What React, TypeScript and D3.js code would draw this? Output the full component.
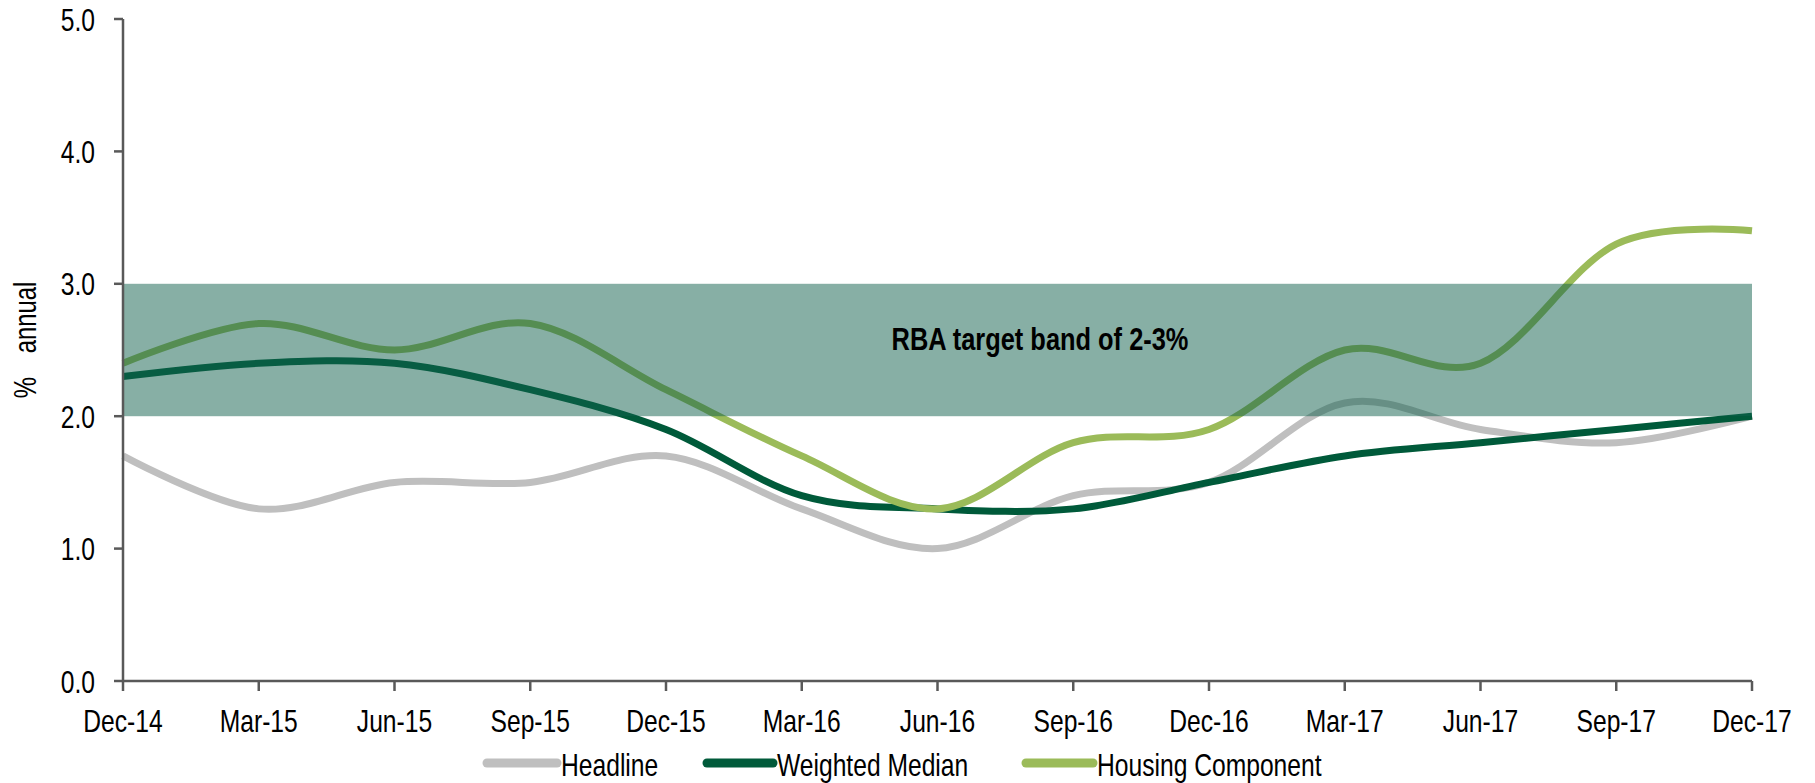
import React from "react";
import * as d3 from "d3";

const quarters = ["Dec-14","Mar-15","Jun-15","Sep-15","Dec-15","Mar-16","Jun-16","Sep-16","Dec-16","Mar-17","Jun-17","Sep-17","Dec-17"];
const headline = [1.7,1.3,1.5,1.5,1.7,1.3,1.0,1.4,1.5,2.1,1.9,1.8,2.0];
const weightedMedian = [2.3,2.4,2.4,2.2,1.9,1.4,1.3,1.3,1.5,1.7,1.8,1.9,2.0];
const housing = [2.4,2.7,2.5,2.7,2.2,1.7,1.3,1.8,1.9,2.5,2.4,3.3,3.4];
const yTicks = [0,1,2,3,4,5];
const band = [2, 3];
const bandLabel = "RBA target band of 2-3%";
const yTitle = "%  annual";

const seriesList = [
  { name: "Headline", values: headline, color: "#bfbfbf" },
  { name: "Weighted Median", values: weightedMedian, color: "#005a3a" },
  { name: "Housing Component", values: housing, color: "#9bbb59" },
];

const W = 1815, H = 783;
const FONT = "'Liberation Sans', Arial, sans-serif";
const SX = 0.77;

function NText(props: { x: number; y: number; anchor?: string; size: number; bold?: boolean; rotate?: number; dy?: string; sx?: number; children: any }) {
  const { x, y, anchor = "start", size, bold, rotate = 0, dy, sx = SX, children } = props;
  return (
    <text
      transform={`translate(${x},${y}) rotate(${rotate}) scale(${sx},1)`}
      textAnchor={anchor}
      fontSize={size}
      fontWeight={bold ? "bold" : "normal"}
      fill="#000"
      dy={dy}
    >
      {children}
    </text>
  );
}

export default function App() {
  const x = d3.scalePoint<string>().domain(quarters).range([123, 1752]);
  const y = d3.scaleLinear().domain([0, 5]).range([681, 19]);
  const line = d3
    .line<number>()
    .x((_, i) => x(quarters[i]) as number)
    .y((v) => y(v))
    .curve(d3.curveCardinal.tension(0));

  const legendItems = [
    { sx: 487, ex: 557, tx: 561 },
    { sx: 707, ex: 773, tx: 777 },
    { sx: 1026, ex: 1093, tx: 1097 },
  ];

  return (
    <svg width={W} height={H} style={{ position: "absolute", left: 0, top: 0, background: "#fff" }} fontFamily={FONT}>
      {seriesList.map((s) => (
        <path key={s.name} d={line(s.values) || ""} fill="none" stroke={s.color} strokeWidth={7} strokeLinecap="butt" />
      ))}
      <rect
        x={x(quarters[0])}
        y={y(band[1])}
        width={(x(quarters[quarters.length - 1]) as number) - (x(quarters[0]) as number)}
        height={y(band[0]) - y(band[1])}
        fill="rgb(15,95,75)"
        fillOpacity={0.5}
      />
      <NText x={1040} y={350} anchor="middle" size={31} sx={0.82} bold>
        {bandLabel}
      </NText>
      {/* y axis */}
      <line x1={123} x2={123} y1={y(5)} y2={y(0)} stroke="#595959" strokeWidth={2.5} />
      {yTicks.map((t) => (
        <g key={t}>
          <line x1={114} x2={123} y1={y(t)} y2={y(t)} stroke="#595959" strokeWidth={2.5} />
          <NText x={95} y={y(t)} dy="0.36em" anchor="end" size={32}>
            {t.toFixed(1)}
          </NText>
        </g>
      ))}
      <NText x={36} y={340} rotate={-90} anchor="middle" size={31}>
        {yTitle.replace(/ /g, "\u2002")}
      </NText>
      {/* x axis */}
      <line x1={123} x2={1752} y1={y(0)} y2={y(0)} stroke="#595959" strokeWidth={2.5} />
      {quarters.map((q) => (
        <g key={q}>
          <line x1={x(q)} x2={x(q)} y1={y(0)} y2={y(0) + 10} stroke="#595959" strokeWidth={2.5} />
          <NText x={x(q) as number} y={732} anchor="middle" size={32}>
            {q}
          </NText>
        </g>
      ))}
      {/* legend */}
      {seriesList.map((s, i) => (
        <g key={s.name}>
          <line x1={legendItems[i].sx} x2={legendItems[i].ex} y1={763} y2={763} stroke={s.color} strokeWidth={9} strokeLinecap="round" />
          <NText x={legendItems[i].tx} y={776} size={32}>
            {s.name}
          </NText>
        </g>
      ))}
    </svg>
  );
}
